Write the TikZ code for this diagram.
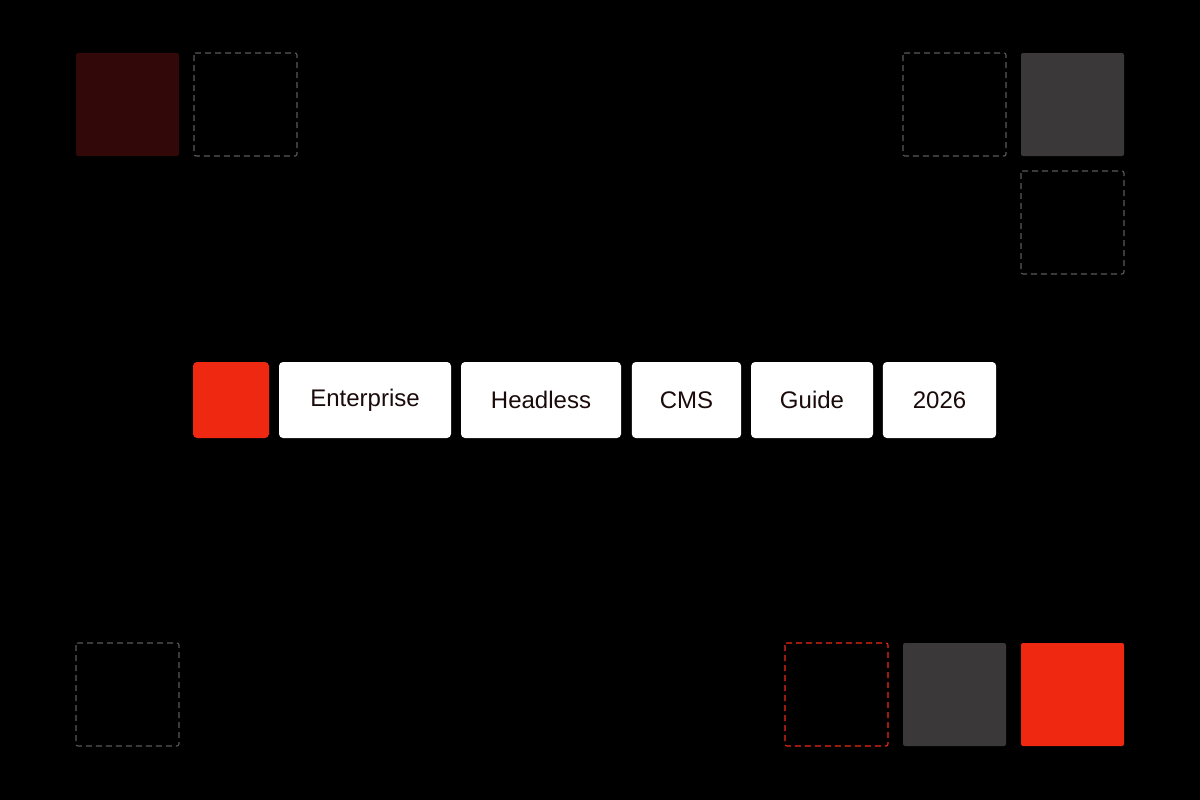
\documentclass[tikz,border=0pt]{standalone}
\usepackage{fontspec}
\setmainfont{Liberation Sans}
\definecolor{bred}{HTML}{EE2811}
\definecolor{dred}{HTML}{330808}
\definecolor{dgray}{HTML}{3A3839}
\definecolor{dash}{HTML}{5A5A5A}
\definecolor{txt}{HTML}{1A0A0A}
\begin{document}
\begin{tikzpicture}[x=0.75pt,y=-0.75pt,
  sq/.style={rounded corners=1.5pt},
  dsq/.style={draw=dash,line width=0.8pt,dash pattern=on 4.5pt off 3pt,rounded corners=1.5pt},
  word/.style={fill=white,rounded corners=3pt,minimum height=57pt,inner sep=0pt,text=txt,font=\fontsize{18}{20}\selectfont,anchor=center}]
\fill[black] (0,0) rectangle (1200,800);
\useasboundingbox (0,0) rectangle (1200,800);
\fill[dred,sq] (76,53) rectangle (179,156);
\draw[dsq] (194,53) rectangle (297,156);
\draw[dsq] (903,53) rectangle (1006,156);
\fill[dgray,sq] (1021,53) rectangle (1124,156);
\draw[dsq] (1021,171) rectangle (1124,274);
\draw[dsq] (76,643) rectangle (179,746);
\draw[dsq,draw=bred] (785,643) rectangle (888,746);
\fill[dgray,sq] (903,643) rectangle (1006,746);
\fill[bred,sq] (1021,643) rectangle (1124,746);
\node[fill=bred,rounded corners=3pt,minimum size=57pt,inner sep=0pt] (r) at (231,400) {};
\node[word,minimum width=129pt] (e) at (365,400) {Enterprise};
\node[word,minimum width=120pt] (h) at (541,400) {Headless};
\node[word,minimum width=82pt] (c) at (686.5,400) {CMS};
\node[word,minimum width=91.5pt] (g) at (812,400) {Guide};
\node[word,minimum width=85pt] (y) at (939.5,400) {2026};
\end{tikzpicture}
\end{document}
